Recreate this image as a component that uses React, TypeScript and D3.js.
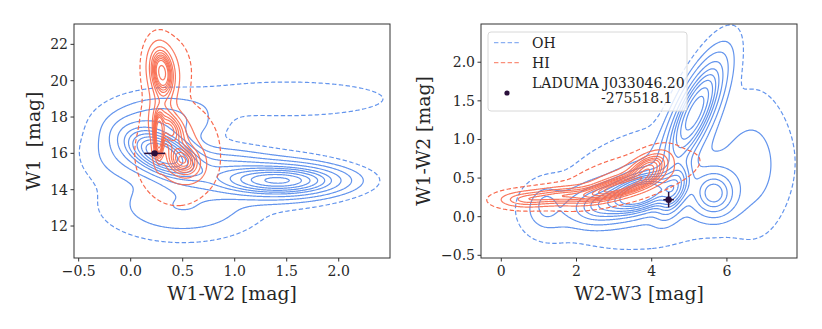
import React, { useMemo } from "react";
import * as d3 from "d3";

// Gaussian mixture components: [cx, cy, sx, sy, rho, weight]
type Comp = [number, number, number, number, number, number];

const LEFT_OH: Comp[] = [
  [0.3, 16.0, 0.2, 0.75, -0.5, 0.28],
  [1.45, 14.5, 0.33, 0.45, 0.0, 0.22],
  [1.45, 14.5, 0.33, 0.7, 0.0, 0.07],
  [0.9, 15.0, 0.35, 0.7, -0.2, 0.12],
  [0.5, 13.1, 0.4, 1.0, 0.0, 0.09],
  [1.5, 19.0, 0.6, 0.6, 0.0, 0.035],
  [0.3, 17.8, 0.3, 0.8, 0.0, 0.07],
  [0.0, 16.0, 0.25, 1.0, 0.0, 0.05],
];
const LEFT_HI: Comp[] = [
  [0.3, 20.5, 0.065, 0.75, -0.2, 0.22],
  [0.3, 18.8, 0.07, 1.2, 0.0, 0.08],
  [0.38, 17.3, 0.09, 0.65, -0.3, 0.17],
  [0.5, 15.6, 0.1, 0.55, -0.2, 0.18],
  [0.27, 16.9, 0.025, 0.7, 0.0, 0.1],
  [0.45, 16.0, 0.2, 1.4, 0.0, 0.15],
  [0.35, 20.5, 0.12, 1.0, 0.0, 0.05],
];
const RIGHT_OH: Comp[] = [
  [5.15, 1.35, 0.45, 0.4, 0.74, 0.27],
  [5.65, 0.3, 0.35, 0.18, 0.0, 0.07],
  [3.7, 0.3, 0.5, 0.15, 0.4, 0.2],
  [1.2, 0.15, 0.14, 0.09, 0.0, 0.003],
  [4.3, 0.4, 1.6, 0.45, 0.3, 0.15],
  [6.7, 0.7, 0.55, 0.55, 0.0, 0.05],
  [2.6, 0.15, 0.5, 0.15, 0.2, 0.07],
  [4.6, 0.35, 0.25, 0.2, 0.5, 0.06],
  [1.2, 0.1, 0.4, 0.2, 0.0, 0.02],
];
const RIGHT_HI: Comp[] = [
  [3.1, 0.38, 0.55, 0.1, 0.7, 0.35],
  [3.9, 0.62, 0.3, 0.12, 0.5, 0.2],
  [1.6, 0.27, 0.7, 0.07, 0.3, 0.2],
  [3.4, 0.5, 0.9, 0.18, 0.6, 0.2],
  [0.6, 0.22, 0.4, 0.06, 0.0, 0.05],
];

// LADUMA source: [x, y, xerr, yerr]
const LEFT_SRC = [0.23, 16.0, 0.1, 0.02];
const RIGHT_SRC = [4.45, 0.22, 0.14, 0.1];

const LEFT_XTICKS = [-0.5, 0.0, 0.5, 1.0, 1.5, 2.0];
const LEFT_YTICKS = [12, 14, 16, 18, 20, 22];
const RIGHT_XTICKS = [0, 2, 4, 6];
const RIGHT_YTICKS = [-0.5, 0.0, 0.5, 1.0, 1.5, 2.0];

const DASHED_LEVEL = [0.02];
const SOLID_LEVELS = [0.1, 0.2, 0.3, 0.4, 0.5, 0.6, 0.7, 0.8, 0.9];

const OH_COLOR = "#6495ED";
const HI_COLOR = "#F86A4E";
const SRC_COLOR = "#2a0f3b";
const FONT = "DejaVu Serif";

function mix(comps: Comp[], x: number, y: number) {
  let s = 0;
  for (const [cx, cy, sx, sy, r, w] of comps) {
    const dx = (x - cx) / sx;
    const dy = (y - cy) / sy;
    const q = (dx * dx - 2 * r * dx * dy + dy * dy) / (1 - r * r);
    s += (w / (sx * sy * Math.sqrt(1 - r * r))) * Math.exp(-0.5 * q);
  }
  return s;
}

function isoLevels(values: number[], props: number[]) {
  const sorted = values.slice().sort((a, b) => b - a);
  const total = d3.sum(sorted);
  const cum: number[] = [];
  let c = 0;
  for (const v of sorted) {
    c += v;
    cum.push(c / total);
  }
  return props.map((p) => {
    const idx = d3.bisectLeft(cum, 1 - p);
    return sorted[Math.min(idx, sorted.length - 1)];
  });
}

function Panel(props: {
  x0: number; y0: number; w: number; h: number;
  xd: [number, number]; yd: [number, number];
  xticks: number[]; yticks: number[];
  xfmt: (v: number) => string; yfmt: (v: number) => string;
  oh: Comp[]; hi: Comp[]; src: number[];
  xlabel: string; ylabel: string; ylabelX: number; id: string;
  legend?: boolean;
}) {
  const { x0, y0, w, h, xd, yd, oh, hi, src, id } = props;
  const x = d3.scaleLinear().domain(xd).range([x0, x0 + w]);
  const y = d3.scaleLinear().domain(yd).range([y0 + h, y0]);

  const layers = useMemo(() => {
    const n = Math.round(w), m = Math.round(h);
    const make = (comps: Comp[]) => {
      const vals: number[] = new Array(n * m);
      for (let j = 0; j < m; j++) {
        const yy = y.invert(y0 + j + 0.5);
        for (let i = 0; i < n; i++) {
          vals[i + j * n] = mix(comps, x.invert(x0 + i + 0.5), yy);
        }
      }
      const dl = isoLevels(vals, DASHED_LEVEL);
      const sl = isoLevels(vals, SOLID_LEVELS);
      const gen = d3.contours().size([n, m]);
      const path = d3.geoPath();
      return {
        dashed: dl.map((t) => path(gen.contour(vals, t)) || ""),
        solid: sl.map((t) => path(gen.contour(vals, t)) || ""),
      };
    };
    return { oh: make(oh), hi: make(hi) };
  }, []);

  const tickColor = "#333";
  return (
    <g>
      <defs>
        <clipPath id={"clip" + id}>
          <rect x={x0} y={y0} width={w} height={h} />
        </clipPath>
      </defs>
      <g clipPath={`url(#clip${id})`}>
        <g transform={`translate(${x0},${y0})`} fill="none" strokeWidth={1.2}>
          {layers.oh.dashed.map((d, i) => (
            <path key={"od" + i} d={d} stroke={OH_COLOR} strokeDasharray="4.4,2.4" />
          ))}
          {layers.oh.solid.map((d, i) => (
            <path key={"os" + i} d={d} stroke={OH_COLOR} />
          ))}
          {layers.hi.dashed.map((d, i) => (
            <path key={"hd" + i} d={d} stroke={HI_COLOR} strokeDasharray="4.4,2.4" />
          ))}
          {layers.hi.solid.map((d, i) => (
            <path key={"hs" + i} d={d} stroke={HI_COLOR} strokeOpacity={0.9} />
          ))}
        </g>
        <g stroke={SRC_COLOR} strokeWidth={1.5}>
          <line x1={x(src[0] - src[2])} x2={x(src[0] + src[2])} y1={y(src[1])} y2={y(src[1])} />
          <line x1={x(src[0])} x2={x(src[0])} y1={y(src[1] - src[3])} y2={y(src[1] + src[3])} />
        </g>
        <circle cx={x(src[0])} cy={y(src[1])} r={3.2} fill={SRC_COLOR} />
      </g>
      {props.legend && (
        <g fontFamily={FONT} fontSize={14} fill="#222">
          <rect x={488} y={32} width={199} height={79} rx={3} fill="white" fillOpacity={0.8} stroke="#d8d8d8" />
          <line x1={494} x2={521} y1={42.7} y2={42.7} stroke={OH_COLOR} strokeOpacity={0.75} strokeWidth={1.3} strokeDasharray="4.4,2.4" />
          <text x={532} y={47.7}>OH</text>
          <line x1={494} x2={521} y1={62.7} y2={62.7} stroke={HI_COLOR} strokeOpacity={0.75} strokeWidth={1.3} strokeDasharray="4.4,2.4" />
          <text x={532} y={67.7}>HI</text>
          <circle cx={507} cy={93} r={2.6} fill={SRC_COLOR} />
          <text x={532} y={87.8}>LADUMA J033046.20</text>
          <text x={601} y={102.8}>-275518.1</text>
        </g>
      )}
      <rect x={x0} y={y0} width={w} height={h} fill="none" stroke="#333" strokeWidth={1} />
      <g fontFamily={FONT} fontSize={14} fill="#262626">
        {props.xticks.map((t) => (
          <g key={"x" + t}>
            <line x1={x(t)} x2={x(t)} y1={y0 + h} y2={y0 + h + 3.5} stroke={tickColor} />
            <text x={x(t)} y={y0 + h + 18} textAnchor="middle">{props.xfmt(t)}</text>
          </g>
        ))}
        {props.yticks.map((t) => (
          <g key={"y" + t}>
            <line x1={x0 - 3.5} x2={x0} y1={y(t)} y2={y(t)} stroke={tickColor} />
            <text x={x0 - 6} y={y(t) + 5} textAnchor="end">{props.yfmt(t)}</text>
          </g>
        ))}
      </g>
      <text x={x0 + w / 2} y={y0 + h + 42} textAnchor="middle" fontFamily={FONT} fontSize={18.8} fill="#262626">
        {props.xlabel}
      </text>
      <text
        transform={`translate(${props.ylabelX},${y0 + h / 2}) rotate(-90)`}
        textAnchor="middle" fontFamily={FONT} fontSize={18.8} fill="#262626" xmlSpace="preserve"
        style={{ whiteSpace: "pre" }}
      >
        {props.ylabel}
      </text>
    </g>
  );
}

const minus = (s: string) => s.replace("-", "\u2212");

export default function App() {
  return (
    <svg width={822} height={329} style={{ position: "absolute", left: 0, top: 0, background: "white" }}>
      <Panel
        id="L" x0={74} y0={24} w={316} h={234}
        xd={[-0.545, 2.493]} yd={[10.24, 23.12]}
        xticks={LEFT_XTICKS} yticks={LEFT_YTICKS}
        xfmt={(v) => minus(d3.format(".1f")(v))} yfmt={(v) => String(v)}
        oh={LEFT_OH} hi={LEFT_HI} src={LEFT_SRC}
        xlabel="W1-W2 [mag]" ylabel="W1  [mag]" ylabelX={40}
      />
      <Panel
        id="R" x0={481} y0={24} w={316} h={234}
        xd={[-0.54, 7.864]} yd={[-0.535, 2.495]}
        xticks={RIGHT_XTICKS} yticks={RIGHT_YTICKS}
        xfmt={(v) => String(v)} yfmt={(v) => minus(d3.format(".1f")(v))}
        oh={RIGHT_OH} hi={RIGHT_HI} src={RIGHT_SRC}
        xlabel="W2-W3 [mag]" ylabel="W1-W2 [mag]" ylabelX={430} legend
      />
    </svg>
  );
}
